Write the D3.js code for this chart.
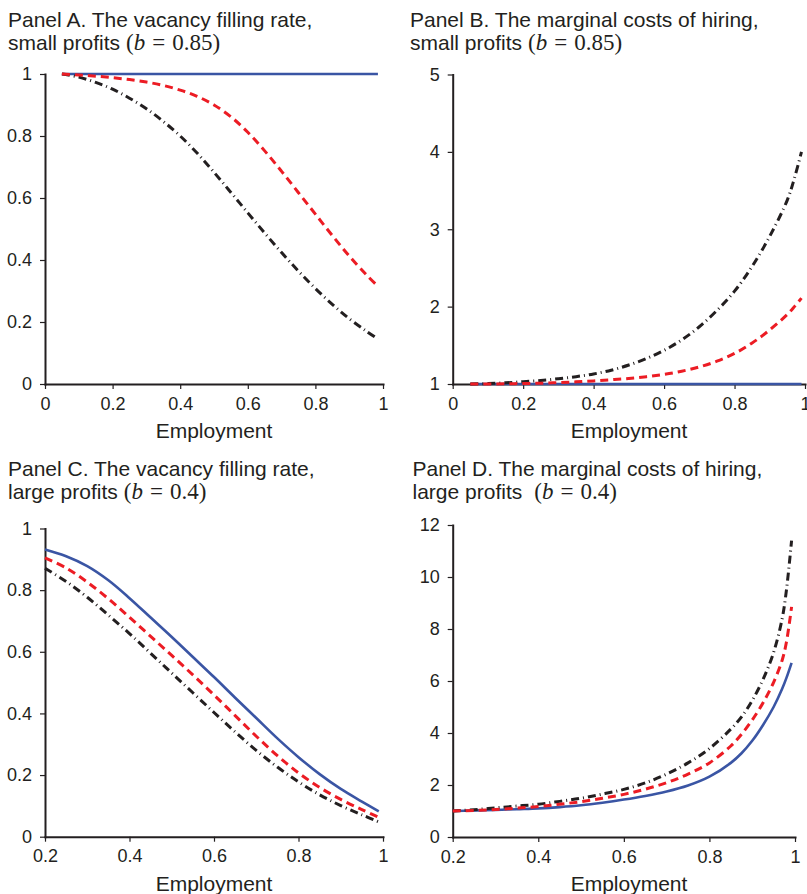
<!DOCTYPE html>
<html>
<head>
<meta charset="utf-8">
<script src="https://cdn.jsdelivr.net/npm/d3@7"></script>
<style>
  body { margin: 0; background: #fff; }
  text { font-family: "Liberation Sans", Arial, Helvetica, sans-serif; fill: #231f20; }
</style>
</head>
<body>
<script>
// ---- data ----
var titles = [
  "Panel A. The vacancy filling rate,",
  "Panel B. The marginal costs of hiring,",
  "Panel C. The vacancy filling rate,",
  "Panel D. The marginal costs of hiring,"
];
var subtitles = ["small profits", "small profits", "large profits", "large profits"];
var bValues = ["0.85", "0.85", "0.4", "0.4"];

var xTicksAB = [0, 0.2, 0.4, 0.6, 0.8, 1];
var xTicksCD = [0.2, 0.4, 0.6, 0.8, 1];
var yTicksA = [0, 0.2, 0.4, 0.6, 0.8, 1];
var yTicksB = [1, 2, 3, 4, 5];
var yTicksC = [0, 0.2, 0.4, 0.6, 0.8, 1];
var yTicksD = [0, 2, 4, 6, 8, 10, 12];

// Panel A
var xA = [0.05, 0.1, 0.15, 0.2, 0.25, 0.3, 0.35, 0.4, 0.45, 0.5, 0.55, 0.6, 0.65, 0.7, 0.75, 0.8, 0.85, 0.9, 0.95, 0.985];
var aSolid = [1, 1, 1, 1, 1, 1, 1, 1, 1, 1, 1, 1, 1, 1, 1, 1, 1, 1, 1, 1];
var aDashed = [1.0, 0.997, 0.993, 0.988, 0.982, 0.974, 0.963, 0.948, 0.928, 0.900, 0.862, 0.812, 0.752, 0.686, 0.617, 0.548, 0.479, 0.413, 0.353, 0.315];
var aDashDot = [1.0, 0.99, 0.973, 0.951, 0.922, 0.888, 0.847, 0.80, 0.745, 0.683, 0.618, 0.552, 0.487, 0.424, 0.364, 0.308, 0.257, 0.211, 0.171, 0.145];

// Panel B
var xB = [0.05, 0.1, 0.15, 0.2, 0.25, 0.3, 0.35, 0.4, 0.45, 0.5, 0.55, 0.6, 0.65, 0.7, 0.75, 0.8, 0.85, 0.9, 0.95, 0.97, 0.99];
var bSolid = [1, 1, 1, 1, 1, 1, 1, 1, 1, 1, 1, 1, 1, 1, 1, 1, 1, 1, 1, 1, 1];
var bDashed = [1.0, 1.0, 1.003, 1.006, 1.01, 1.018, 1.028, 1.04, 1.055, 1.072, 1.095, 1.125, 1.165, 1.22, 1.295, 1.395, 1.53, 1.70, 1.90, 2.0, 2.11];
var bDashDot = [1.0, 1.005, 1.015, 1.03, 1.045, 1.068, 1.095, 1.13, 1.178, 1.245, 1.33, 1.435, 1.57, 1.74, 1.95, 2.2, 2.52, 2.91, 3.38, 3.66, 4.0];

// Panel C
var xC = [0.2, 0.25, 0.3, 0.35, 0.4, 0.45, 0.5, 0.55, 0.6, 0.65, 0.7, 0.75, 0.8, 0.85, 0.9, 0.95, 0.99];
var cSolid = [0.932, 0.910, 0.878, 0.832, 0.774, 0.711, 0.648, 0.583, 0.518, 0.451, 0.385, 0.319, 0.258, 0.203, 0.155, 0.114, 0.082];
var cDashed = [0.905, 0.872, 0.826, 0.772, 0.712, 0.650, 0.588, 0.525, 0.460, 0.393, 0.326, 0.263, 0.207, 0.160, 0.121, 0.088, 0.063];
var cDashDot = [0.871, 0.828, 0.777, 0.719, 0.659, 0.595, 0.531, 0.467, 0.403, 0.340, 0.280, 0.226, 0.178, 0.136, 0.101, 0.071, 0.048];

// Panel D
var xD = [0.2, 0.25, 0.3, 0.35, 0.4, 0.45, 0.5, 0.55, 0.6, 0.65, 0.7, 0.75, 0.8, 0.85, 0.875, 0.9, 0.925, 0.95, 0.97, 0.98, 0.992];
var dSolid = [1.0, 1.02, 1.04, 1.07, 1.10, 1.15, 1.22, 1.32, 1.44, 1.58, 1.75, 1.98, 2.32, 2.85, 3.22, 3.7, 4.3, 5.0, 5.7, 6.12, 6.7];
var dDashed = [1.0, 1.02, 1.06, 1.11, 1.17, 1.26, 1.36, 1.49, 1.64, 1.84, 2.09, 2.42, 2.85, 3.5, 3.95, 4.5, 5.15, 5.95, 6.8, 7.5, 8.85];
var dDashDot = [1.0, 1.05, 1.12, 1.19, 1.26, 1.37, 1.49, 1.65, 1.83, 2.08, 2.42, 2.85, 3.4, 4.15, 4.62, 5.25, 6.05, 7.1, 8.4, 9.5, 11.4];

// ---- layout ----
var W = 807, H = 894;
var ink = "#231f20";
var styles = [
  { color: "#3a55a4", width: 2.6, dash: null },          // solid blue
  { color: ink, width: 3, dash: "8,4,1,4" },              // dash-dot black
  { color: "#ec1c24", width: 3, dash: "8,5" }             // dashed red
];

var panels = [
  { xs: xA, ys: [aSolid, aDashDot, aDashed], xDomain: [0, 1], yDomain: [0, 1], xTicks: xTicksAB, yTicks: yTicksA,
    left: 45, right: 383, top: 74, bottom: 384, tx: 8, ty: 27, gap: 0, labelX: 214 },
  { xs: xB, ys: [bSolid, bDashDot, bDashed], xDomain: [0, 1], yDomain: [1, 5], xTicks: xTicksAB, yTicks: yTicksB,
    left: 452.7, right: 805, top: 74.5, bottom: 384, tx: 410, ty: 27, gap: 0, labelX: 629 },
  { xs: xC, ys: [cSolid, cDashDot, cDashed], xDomain: [0.2, 1], yDomain: [0, 1], xTicks: xTicksCD, yTicks: yTicksC,
    left: 45, right: 383, top: 528.5, bottom: 836.7, tx: 8, ty: 475.5, gap: 0, labelX: 214 },
  { xs: xD, ys: [dSolid, dDashDot, dDashed], xDomain: [0.2, 1], yDomain: [0, 12], xTicks: xTicksCD, yTicks: yTicksD,
    left: 452.7, right: 795, top: 525, bottom: 837, tx: 412.5, ty: 475.5, gap: 6, labelX: 629 }
];

var svg = d3.select("body").append("svg")
  .attr("width", W)
  .attr("height", H);

var fmt = d3.format("~g");

panels.forEach(function (p, i) {
  var g = svg.append("g");

  var x = d3.scaleLinear().domain(p.xDomain).range([p.left, p.right]);
  var y = d3.scaleLinear().domain(p.yDomain).range([p.bottom, p.top]);

  // title, two lines
  g.append("text")
    .attr("x", p.tx).attr("y", p.ty)
    .style("font-size", "21px")
    .text(titles[i]);

  var t2 = g.append("text")
    .attr("x", p.tx).attr("y", p.ty + 23)
    .style("font-size", "21px")
    .style("white-space", "pre");
  t2.append("tspan").text(subtitles[i]);
  var serif = "'Liberation Serif', 'Times New Roman', serif";
  t2.append("tspan").attr("dx", 6 + p.gap).style("font-family", serif).style("font-size", "23px").text("(");
  t2.append("tspan").style("font-family", serif).style("font-size", "23px").style("font-style", "italic").text("b");
  t2.append("tspan").attr("dx", 7).style("font-family", serif).style("font-size", "23px").text("=");
  t2.append("tspan").attr("dx", 7).style("font-family", serif).style("font-size", "23px").text(bValues[i] + ")");

  // axes
  var xAxis = d3.axisBottom(x).tickValues(p.xTicks).tickSize(5).tickSizeOuter(0).tickPadding(8).tickFormat(fmt);
  var yAxis = d3.axisLeft(y).tickValues(p.yTicks).tickSize(5).tickSizeOuter(0).tickPadding(8).tickFormat(fmt);

  var gx = g.append("g").attr("transform", "translate(0," + p.bottom + ")").call(xAxis);
  var gy = g.append("g").attr("transform", "translate(" + p.left + ",0)").call(yAxis);

  [gx, gy].forEach(function (ax) {
    ax.select(".domain").attr("stroke", ink).attr("stroke-width", 2).attr("stroke-linecap", "square");
    ax.selectAll(".tick line").attr("stroke", ink).attr("stroke-width", 1.2);
    ax.selectAll(".tick text").attr("fill", ink).style("font-size", "18px")
      .style("font-family", "'Liberation Sans', Arial, sans-serif");
  });

  // x label
  g.append("text")
    .attr("x", p.labelX).attr("y", p.bottom + 54)
    .attr("text-anchor", "middle")
    .style("font-size", "21px")
    .text("Employment");

  // curves
  var line = d3.line()
    .x(function (d) { return x(d[0]); })
    .y(function (d) { return y(d[1]); })
    .curve(d3.curveCatmullRom.alpha(0.5));

  p.ys.forEach(function (vals, k) {
    var pts = p.xs.map(function (xv, j) { return [xv, vals[j]]; });
    var s = styles[k];
    g.append("path")
      .datum(pts)
      .attr("d", line)
      .attr("fill", "none")
      .attr("stroke", s.color)
      .attr("stroke-width", s.width)
      .attr("stroke-dasharray", s.dash);
  });
});
</script>
</body>
</html>
